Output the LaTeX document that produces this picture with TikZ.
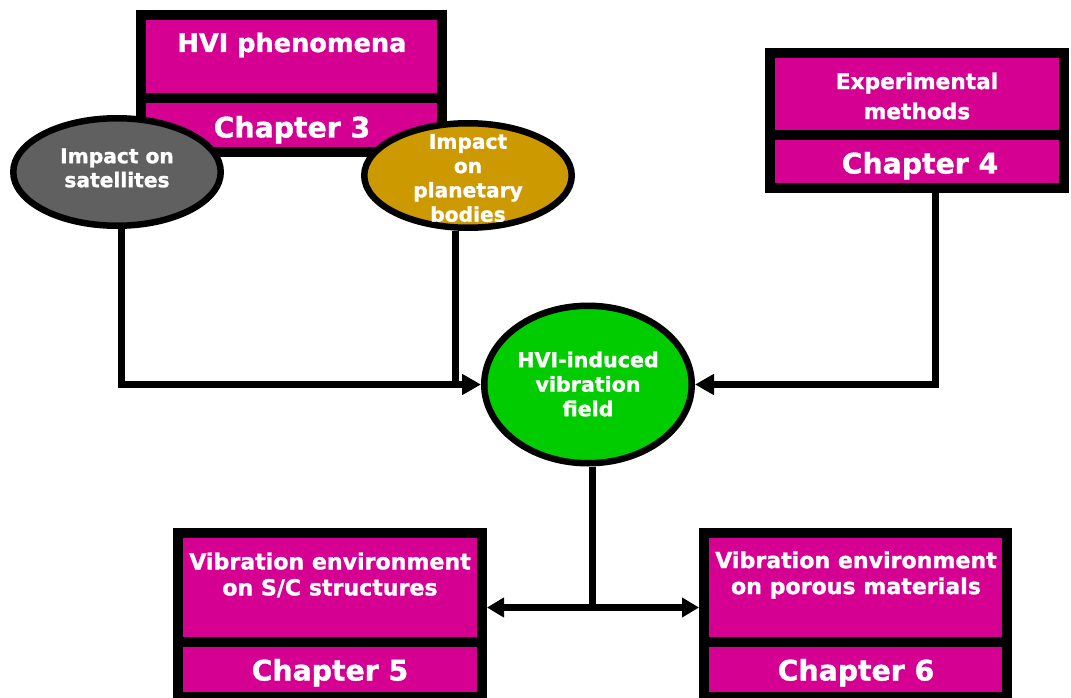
\documentclass[tikz,border=0pt]{standalone}
\usepackage{fontspec}
\setmainfont{DejaVu Sans}[BoldFeatures={FakeBold=1.2}]
\usetikzlibrary{shapes.geometric,arrows.meta}
\definecolor{mag}{RGB}{213,0,145}
\definecolor{grn}{RGB}{0,204,0}
\definecolor{gry}{RGB}{96,96,96}
\definecolor{org}{RGB}{204,153,0}
\tikzset{
  chbox/.style={draw=black, fill=mag, line width=10pt, rectangle, inner sep=0pt},
  oval/.style={draw=black, line width=6.5pt, ellipse, inner sep=0pt, minimum width=207.5pt},
  txt/.style={text=white, font=\bfseries, inner sep=0pt, align=center},
  conn/.style={draw=black, line width=7pt},
  tip/.style={-{Triangle[length=19pt,width=20pt]}},
  tips/.style={{Triangle[length=17pt,width=19pt]}-{Triangle[length=17pt,width=19pt]}}
}
\begin{document}
\begin{tikzpicture}[x=1pt,y=-1pt]
\useasboundingbox (0,0) rectangle (1071,698);
% Chapter 3 box
\node[chbox, minimum width=301pt, minimum height=83pt] (hvi) at (291.5,56.5) {};
\node[chbox, minimum width=301pt, minimum height=54pt] (ch3) at (291.5,125) {};
% Chapter 4 box
\node[chbox, minimum width=294pt, minimum height=82.5pt] (exp) at (917,94.25) {};
\node[chbox, minimum width=294pt, minimum height=52.5pt] (ch4) at (917,161.75) {};
% Chapter 5 box
\node[chbox, minimum width=304pt, minimum height=109pt] (sc) at (330,587.5) {};
\node[chbox, minimum width=304pt, minimum height=55pt] (ch5) at (330,669.5) {};
% Chapter 6 box
\node[chbox, minimum width=303pt, minimum height=109pt] (por) at (855.5,587.5) {};
\node[chbox, minimum width=303pt, minimum height=55pt] (ch6) at (855.5,669.5) {};
% ellipses
\node[oval, fill=gry, minimum height=107.5pt] (sat) at (117,172) {};
\node[oval, fill=org, minimum height=104.5pt] (plan) at (468,175.5) {};
\node[oval, fill=grn, minimum height=157.5pt] (field) at (588,384.5) {};
% texts
\node[txt, anchor=base, font=\bfseries\fontsize{25.6}{29}\selectfont] (thvi) at (292,52) {HVI phenomena};
\node[txt, anchor=base, font=\bfseries\fontsize{28.3}{32}\selectfont] (tch3) at (292,137.5) {Chapter 3};
\node[txt, font=\bfseries\fontsize{21.7}{30}\selectfont] (texp) at (917,96) {Experimental\\methods};
\node[txt, anchor=base, font=\bfseries\fontsize{28.3}{32}\selectfont] (tch4) at (920,173.5) {Chapter 4};
\node[txt, font=\bfseries\fontsize{20.2}{24}\selectfont] (tsat) at (117,168) {Impact on\\satellites};
\node[txt, font=\bfseries\fontsize{20.2}{24.3}\selectfont] (tplan) at (468,178) {Impact\\on\\planetary\\bodies};
\node[txt, font=\bfseries\fontsize{20.6}{24.5}\selectfont] (tfield) at (588,384) {HVI-induced\\vibration\\field};
\node[txt, font=\bfseries\fontsize{22.1}{26}\selectfont] (tsc) at (330,575) {Vibration environment\\on S/C structures};
\node[txt, anchor=base, font=\bfseries\fontsize{28.3}{32}\selectfont] (tch5) at (330,680.5) {Chapter 5};
\node[txt, font=\bfseries\fontsize{22.1}{26}\selectfont] (tpor) at (856,575) {Vibration environment\\on porous materials};
\node[txt, anchor=base, font=\bfseries\fontsize{28.3}{32}\selectfont] (tch6) at (856,680.5) {Chapter 6};
% connectors
\coordinate (j) at (592.5,607.5);
\draw[conn, tip] ([xshift=4.5pt]sat.south) |- (field.west);
\draw[conn] ([xshift=-13pt]plan.south) -- ([xshift=-13pt]plan.south |- field.west);
\draw[conn, tip] ([xshift=18pt]ch4.south) |- (field.east);
\draw[conn] (field.south -| j) -- (j);
\draw[conn, tips] (sc.east |- j) -- (por.west |- j);
\end{tikzpicture}
\end{document}
